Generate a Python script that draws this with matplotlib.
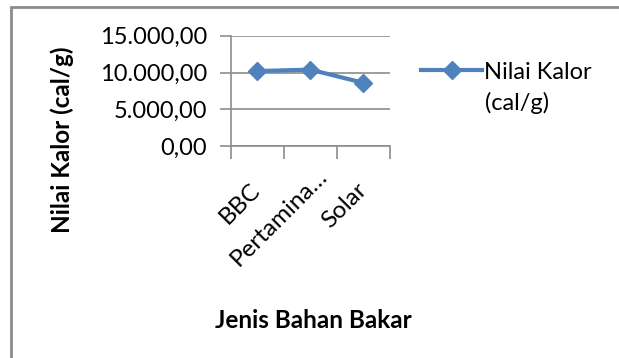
import matplotlib
matplotlib.use("Agg")
import matplotlib.pyplot as plt
from matplotlib.patches import Rectangle
from matplotlib.ticker import FuncFormatter
from matplotlib.transforms import ScaledTranslation

# nilai kalor tiap jenis bahan bakar
jenis = ["BBC", "Pertamina…", "Solar"]
nilai_kalor = [10200, 10400, 8600]
y_ticks = [0, 5000, 10000, 15000]

plt.rcParams['font.family'] = ['Lato', 'DejaVu Sans']

biru = "#4F81BD"
abu = "#8c8c8c"

fig = plt.figure(figsize=(6.19, 3.58), dpi=100)
ax = fig.add_axes([0.3727, 0.592, 0.2573, 0.308])

def fmt_id(v, pos):
    # format angka gaya Indonesia: titik ribuan, koma desimal
    s = "{:,.2f}".format(v)
    return s.replace(",", "X").replace(".", ",").replace("X", ".")

x = range(len(jenis))
ax.plot(x, nilai_kalor, color=biru, lw=3, marker="D", ms=9,
        label="Nilai Kalor")

ax.set_xlim(-0.5, len(jenis) - 0.5)
ax.set_ylim(0, 15000)
ax.set_yticks(y_ticks)
ax.yaxis.set_major_formatter(FuncFormatter(fmt_id))
ax.set_xticks([i - 0.5 for i in range(len(jenis) + 1)])
ax.set_xticklabels([])
ax.set_xticks(list(x), minor=True)
ax.set_xticklabels(jenis, minor=True, rotation=45, ha="right", va="center",
                   rotation_mode="anchor", fontsize=17.5)
ax.tick_params(axis="x", which="minor", length=0, pad=29)
ax.tick_params(axis="x", which="major", length=9, color=abu, width=1.2)
ax.tick_params(axis="y", length=8, color=abu, width=1.2, labelsize=17, pad=9)

# label tengah yang terpotong digeser sedikit ke arah teksnya
lbl = ax.xaxis.get_minorticklabels()[1]
lbl.set_transform(lbl.get_transform() +
                  ScaledTranslation(10 / 72, 10 / 72, fig.dpi_scale_trans))

ax.grid(axis="y", color=abu, lw=1.2)
ax.set_axisbelow(True)
for s in ["top", "right"]:
    ax.spines[s].set_visible(False)
for s in ["left", "bottom"]:
    ax.spines[s].set_color(abu)
    ax.spines[s].set_linewidth(1.2)

fig.text(0.100, 0.609, "Nilai Kalor (cal/g)", rotation=90, ha="center",
         va="center", fontsize=17.5, fontweight="bold")
fig.text(0.506, 0.105, "Jenis Bahan Bakar", ha="center", va="center",
         fontsize=17.5, fontweight="bold")

leg = ax.legend(loc="center left", bbox_to_anchor=(1.195, 0.67), frameon=False,
                fontsize=17, handlelength=2.6, handletextpad=0.05,
                borderaxespad=0, borderpad=0)
# baris kedua label legenda
fig.text(485 / 619, 1 - 103 / 358, "(cal/g)", ha="left", va="center",
         fontsize=17)

# bingkai luar grafik
fig.patches.append(Rectangle((10.5 / 619, -0.1), 1.2, (358 - 7) / 358 + 0.1,
                             transform=fig.transFigure, fill=False,
                             edgecolor=abu, lw=2))

fig.savefig("out.png", dpi=100)
